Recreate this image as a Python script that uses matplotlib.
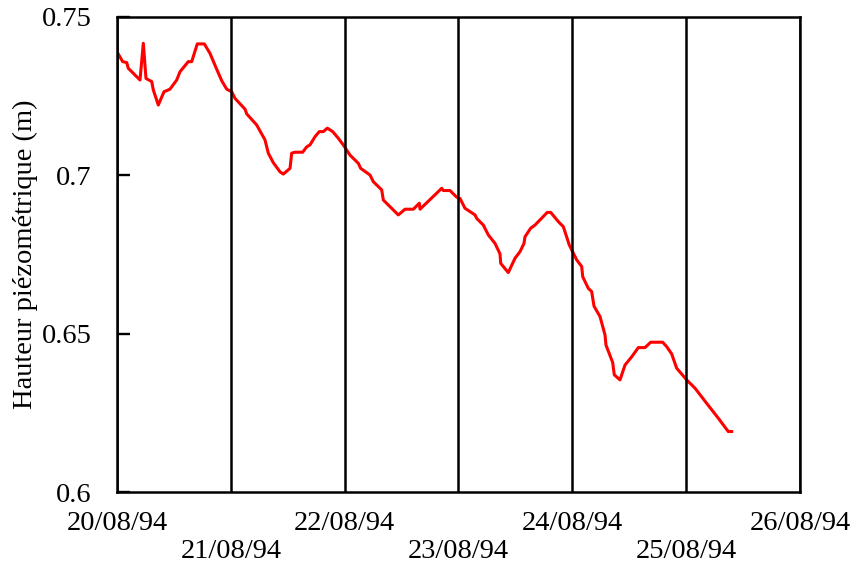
import numpy as np
import pandas as pd
import matplotlib
matplotlib.use("Agg")
import matplotlib.pyplot as plt
import matplotlib.dates as mdates

# heures écoulées depuis le 20/08/94 00:00 et hauteur piézométrique (m)
heures = [0.0, 1.2, 2.05, 2.38, 4.85, 5.55, 6.11, 7.32, 7.65, 8.71, 9.91, 11.17,
          12.59, 13.28, 15.03, 15.75, 16.93, 18.41, 19.61, 21.02, 22.07, 23.13,
          24.18, 24.88, 26.99, 27.35, 29.45, 31.2, 31.9, 32.95, 34.37, 35.06,
          36.48, 36.83, 37.53, 39.15, 40.0, 40.69, 41.75, 42.65, 43.5, 44.34,
          45.48, 46.66, 47.71, 49.12, 50.88, 51.38, 53.34, 54.04, 55.81, 56.15,
          59.31, 60.72, 62.47, 63.74, 63.89, 68.46, 68.8, 70.21, 71.62, 72.32,
          73.37, 75.48, 75.84, 77.23, 78.28, 79.7, 80.75, 80.9, 82.5, 83.91,
          84.97, 85.81, 86.02, 87.22, 88.13, 90.72, 91.44, 93.04, 94.1, 95.36,
          96.92, 97.98, 98.19, 99.37, 100.08, 100.57, 101.84, 102.89, 103.1,
          104.51, 104.85, 106.05, 107.11, 108.52, 109.91, 111.32, 112.52,
          115.05, 115.9, 116.95, 118.0, 120.11, 121.86, 124.33, 126.78, 127.83,
          128.88, 129.6]
hauteur = [0.739, 0.7359, 0.7356, 0.7338, 0.7301, 0.7417, 0.7306, 0.7296, 0.727,
           0.7222, 0.7264, 0.7272, 0.7301, 0.7327, 0.7359, 0.7359, 0.7415, 0.7415,
           0.7385, 0.7335, 0.7299, 0.7272, 0.7264, 0.7243, 0.7209, 0.7194, 0.7159,
           0.7112, 0.707, 0.704, 0.7011, 0.7004, 0.7022, 0.707, 0.7073, 0.7073,
           0.709, 0.7096, 0.7122, 0.7138, 0.7138, 0.7149, 0.7138, 0.7117, 0.7096,
           0.7064, 0.7038, 0.7022, 0.7001, 0.698, 0.6954, 0.6922, 0.6875, 0.6893,
           0.6893, 0.6912, 0.6893, 0.6959, 0.6952, 0.6952, 0.6931, 0.6927, 0.6896,
           0.6875, 0.6864, 0.6843, 0.6812, 0.6785, 0.6752, 0.6722, 0.6693, 0.6738,
           0.6759, 0.6785, 0.6806, 0.6833, 0.6843, 0.6883, 0.6883, 0.6854, 0.6838,
           0.678, 0.6733, 0.6712, 0.668, 0.6643, 0.6633, 0.6587, 0.6554, 0.6496,
           0.6464, 0.6409, 0.637, 0.6354, 0.6401, 0.6427, 0.6456, 0.6456, 0.6473,
           0.6473, 0.6459, 0.6436, 0.6391, 0.6354, 0.6328, 0.628, 0.6233, 0.6212,
           0.6191, 0.6191]

debut = pd.Timestamp("1994-08-20")
fin = pd.Timestamp("1994-08-26")
temps = debut + pd.to_timedelta(heures, unit="h")

plt.rcParams['font.family'] = ['Liberation Serif', 'DejaVu Serif']
plt.rcParams['font.size'] = 20.5

fig = plt.figure(figsize=(8.59, 5.66), dpi=100)
ax = fig.add_axes([0.1362, 0.1307, 0.7951, 0.8393])

ax.plot(temps, hauteur, color='red', lw=2.2)

ax.set_xlim(debut, fin)
ax.set_ylim(0.6, 0.75)
ax.set_yticks([0.6, 0.65, 0.7, 0.75])
ax.set_yticklabels(['0.6', '0.65', '0.7', '0.75'])

# étiquettes des dates en quinconce
ax.xaxis.set_major_locator(mdates.DayLocator(bymonthday=[20, 22, 24, 26]))
ax.xaxis.set_minor_locator(mdates.DayLocator(bymonthday=[21, 23, 25]))
ax.xaxis.set_major_formatter(mdates.DateFormatter('%d/%m/%y'))
ax.xaxis.set_minor_formatter(mdates.DateFormatter('%d/%m/%y'))
ax.tick_params(axis='x', which='major', direction='in', length=0, pad=14)
ax.tick_params(axis='x', which='minor', direction='in', length=0, pad=34)
ax.tick_params(axis='y', direction='in', length=9, width=1.7, pad=18)

ax.grid(True, which='both', axis='x', color='black', lw=1.8)
ax.set_axisbelow(False)

for s in ax.spines.values():
    s.set_linewidth(1.8)

ax.set_ylabel('Hauteur piézométrique (m)', labelpad=3)

fig.savefig('out.png', dpi=100)
